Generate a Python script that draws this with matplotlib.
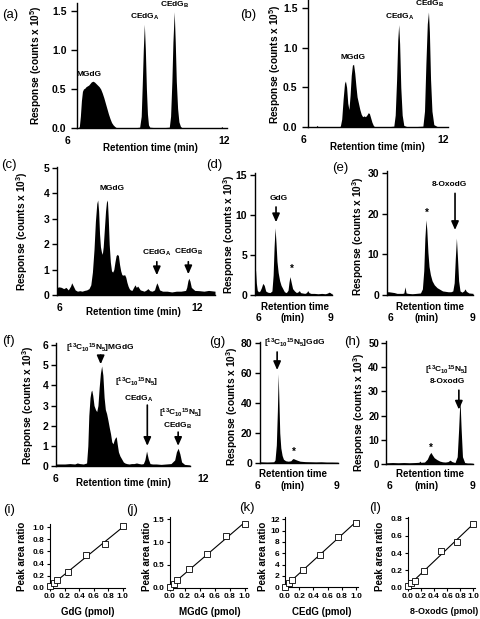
import matplotlib
matplotlib.use("Agg")
import matplotlib.pyplot as plt
import numpy as np

plt.rcParams['font.family'] = ['Liberation Sans', 'DejaVu Sans']
plt.rcParams['font.weight'] = 'bold'
plt.rcParams['mathtext.fontset'] = 'custom'
plt.rcParams['mathtext.rm'] = 'Liberation Sans:bold'
plt.rcParams['mathtext.bf'] = 'Liberation Sans:bold'
plt.rcParams['mathtext.it'] = 'Liberation Sans:bold'
plt.rcParams['mathtext.default'] = 'rm'

W, H = 480, 619
TICK_FS = 7.5
LABEL_FS = 7.3

# ---- chromatogram traces (retention time in min, response) ----
a_t = [6.35, 6.40, 6.44, 6.48, 6.52, 6.56, 6.60, 6.65, 6.70, 6.75, 6.80, 6.85, 6.90, 6.96, 7.02, 7.08, 7.14, 7.20,
       7.26, 7.32, 7.38, 7.44, 7.50, 7.56, 7.62, 7.68, 7.74, 7.80, 7.88, 8.2, 8.5, 8.76, 8.82, 8.86, 8.90, 8.94,
       8.98, 9.02, 9.06, 9.10, 9.15, 9.5, 9.9, 9.95, 10.0, 10.04, 10.09, 10.13, 10.17, 10.22, 10.27, 10.33, 10.40,
       11.0, 11.88, 11.92, 11.96, 12.12]
a_y = [0.0, 0.0, 0.02, 0.15, 0.35, 0.47, 0.50, 0.51, 0.53, 0.54, 0.55, 0.57, 0.59, 0.60, 0.59, 0.57, 0.55, 0.53,
       0.50, 0.45, 0.39, 0.32, 0.25, 0.18, 0.12, 0.07, 0.04, 0.02, 0.0, 0.0, 0.0, 0.01, 0.15, 0.55, 1.0, 1.33,
       1.0, 0.5, 0.18, 0.04, 0.01, 0.0, 0.01, 0.15, 0.6, 1.1, 1.49, 1.1, 0.6, 0.25, 0.08, 0.02, 0.0,
       0.0, 0.0, 0.02, 0.0, 0.0]

b_t = [6.21, 6.55, 6.6, 6.65, 7.5, 7.6, 7.66, 7.72, 7.78, 7.82, 7.87, 7.92, 7.97, 8.02, 8.07, 8.12, 8.17, 8.22,
       8.27, 8.32, 8.38, 8.44, 8.5, 8.56, 8.62, 8.68, 8.74, 8.8, 8.85, 8.9, 8.96, 9.02, 9.08, 9.5, 9.9, 9.96,
       10.02, 10.07, 10.11, 10.15, 10.2, 10.26, 10.33, 10.5, 11.15, 11.22, 11.28, 11.34, 11.39, 11.43, 11.48,
       11.54, 11.62, 11.8, 12.23]
b_y = [0.0, 0.0, 0.02, 0.0, 0.0, 0.01, 0.1, 0.35, 0.55, 0.58, 0.5, 0.3, 0.22, 0.4, 0.65, 0.78, 0.79, 0.68,
       0.52, 0.38, 0.3, 0.22, 0.16, 0.13, 0.14, 0.13, 0.15, 0.18, 0.17, 0.12, 0.06, 0.02, 0.0, 0.0, 0.01, 0.15,
       0.6, 1.1, 1.29, 1.05, 0.5, 0.15, 0.02, 0.0, 0.01, 0.2, 0.8, 1.3, 1.45, 1.2, 0.6,
       0.2, 0.03, 0.0, 0.0]

c_t = [5.91, 6.0, 6.1, 6.2, 6.3, 6.4, 6.5, 6.55, 6.62, 6.7, 6.8, 6.9, 7.0, 7.1, 7.2, 7.3, 7.38, 7.45, 7.52, 7.58,
       7.64, 7.68, 7.72, 7.76, 7.8, 7.84, 7.88, 7.92, 7.97, 8.02, 8.06, 8.1, 8.14, 8.18, 8.23, 8.28, 8.33, 8.38,
       8.43, 8.48, 8.53, 8.58, 8.63, 8.68, 8.73, 8.79, 8.85, 8.9, 8.95, 9.0, 9.05, 9.1, 9.17, 9.24, 9.3, 9.36,
       9.42, 9.47, 9.53, 9.6, 9.7, 9.8, 9.86, 9.95, 10.05, 10.15, 10.2, 10.25, 10.3, 10.37, 10.5, 10.7, 10.9,
       11.1, 11.3, 11.5, 11.55, 11.6, 11.64, 11.69, 11.75, 11.9, 12.1, 12.3, 12.5, 12.78]
c_y = [0.3, 0.32, 0.3, 0.25, 0.3, 0.2, 0.35, 0.48, 0.35, 0.2, 0.15, 0.17, 0.15, 0.18, 0.2, 0.25, 0.4, 0.9, 1.8, 2.9,
       3.6, 3.74, 3.3, 2.4, 1.9, 1.7, 1.6, 1.9, 2.6, 3.3, 3.65, 3.74, 3.0, 2.0, 1.3, 0.95, 0.9, 1.0,
       1.3, 1.55, 1.6, 1.55, 1.2, 0.95, 0.8, 0.78, 0.8, 0.7, 0.5, 0.35, 0.25, 0.2, 0.18, 0.3, 0.4, 0.3,
       0.35, 0.28, 0.2, 0.18, 0.15, 0.2, 0.25, 0.17, 0.15, 0.2, 0.35, 0.48, 0.38, 0.2, 0.15, 0.15, 0.12,
       0.15, 0.15, 0.18, 0.3, 0.55, 0.66, 0.55, 0.3, 0.18, 0.17, 0.15, 0.18, 0.15]

d_t = [5.875, 5.9, 5.93, 5.97, 6.02, 6.08, 6.14, 6.2, 6.26, 6.32, 6.4, 6.5, 6.58, 6.63, 6.67, 6.71, 6.75, 6.79,
       6.84, 6.9, 6.96, 7.03, 7.1, 7.18, 7.25, 7.29, 7.33, 7.38, 7.44, 7.52, 7.6, 7.67, 7.72, 7.77, 7.85, 7.95,
       8.02, 8.07, 8.12, 8.2, 8.35, 8.5, 8.65, 8.8, 8.9, 8.95, 9.0, 9.04, 9.08]
d_y = [3.6, 3.0, 1.5, 0.6, 0.4, 0.5, 0.9, 1.45, 1.2, 0.5, 0.35, 0.3, 0.5, 2.5, 6.0, 8.4, 6.5, 4.2,
       2.8, 1.8, 1.2, 0.8, 0.4, 0.3, 0.6, 1.6, 2.3, 1.6, 0.8, 0.5, 0.3, 0.4, 0.55, 0.3, 0.25, 0.2,
       0.3, 0.55, 0.3, 0.2, 0.2, 0.15, 0.2, 0.15, 0.25, 0.35, 0.3, 0.2, 0.2]

e_t = [5.89, 5.95, 6.05, 6.15, 6.25, 6.35, 6.45, 6.5, 6.54, 6.58, 6.65, 6.8, 6.95, 7.1, 7.17, 7.22, 7.26, 7.3,
       7.33, 7.37, 7.41, 7.46, 7.52, 7.6, 7.7, 7.8, 7.9, 8.0, 8.1, 8.2, 8.27, 8.32, 8.36, 8.4, 8.44, 8.48, 8.53,
       8.6, 8.67, 8.71, 8.76, 8.85, 9.0]
e_y = [0.8, 0.8, 0.7, 0.6, 0.4, 0.4, 0.4, 0.5, 2.0, 0.5, 0.4, 0.3, 0.4, 0.5, 1.5, 6.0, 14.0, 18.5,
       16.0, 10.5, 7.0, 5.0, 3.5, 2.5, 1.8, 1.4, 1.0, 0.9, 0.8, 0.8, 1.0, 3.0, 9.0, 14.0, 9.0, 3.5, 1.0,
       0.7, 1.0, 1.5, 0.9, 0.5, 0.4]

f_t = [6.04, 6.2, 6.4, 6.6, 6.8, 6.9, 7.0, 7.15, 7.28, 7.33, 7.37, 7.42, 7.46, 7.49, 7.53, 7.58, 7.64, 7.69, 7.74,
       7.79, 7.84, 7.89, 7.94, 7.99, 8.04, 8.09, 8.14, 8.2, 8.25, 8.3, 8.35, 8.4, 8.44, 8.48, 8.52, 8.57, 8.63,
       8.7, 8.77, 8.83, 8.9, 9.0, 9.1, 9.2, 9.3, 9.4, 9.5, 9.58, 9.64, 9.71, 9.78, 9.85, 9.95, 10.1, 10.3,
       10.5, 10.7, 10.85, 10.92, 10.99, 11.06, 11.13, 11.25, 11.47]
f_y = [0.1, 0.1, 0.1, 0.12, 0.1, 0.15, 0.12, 0.1, 0.15, 1.0, 2.5, 3.4, 3.7, 3.76, 3.5, 3.0, 2.8, 2.7, 3.0,
       3.9, 4.6, 4.96, 4.5, 3.4, 2.8, 2.6, 2.3, 1.9, 1.6, 1.2, 1.1, 1.3, 1.4, 1.45, 1.1, 0.7, 0.5,
       0.35, 0.2, 0.15, 0.12, 0.1, 0.12, 0.12, 0.15, 0.12, 0.1, 0.12, 0.3, 0.74, 0.35, 0.12, 0.1, 0.1, 0.08,
       0.1, 0.12, 0.3, 0.7, 0.88, 0.6, 0.2, 0.08, 0.05]

g_t = [6.08, 6.2, 6.35, 6.5, 6.6, 6.65, 6.7, 6.74, 6.77, 6.8, 6.83, 6.87, 6.92, 6.97, 7.05, 7.15, 7.25, 7.3,
       7.34, 7.4, 7.5, 7.6, 7.8, 8.0, 8.2, 8.4, 8.6, 8.8, 9.04]
g_y = [0.8, 0.7, 0.6, 0.7, 0.8, 2.0, 12.0, 35.0, 59.5, 40.0, 20.0, 10.0, 5.0, 2.5, 1.5, 1.2, 1.5, 2.5,
       3.0, 2.5, 1.8, 1.2, 0.9, 0.8, 0.7, 0.8, 0.6, 0.6, 0.5]

h_t = [5.75, 5.9, 6.1, 6.3, 6.5, 6.7, 6.9, 7.05, 7.08, 7.12, 7.25, 7.35, 7.42, 7.48, 7.53, 7.6, 7.7, 7.8, 7.9,
       8.0, 8.1, 8.17, 8.24, 8.35, 8.43, 8.48, 8.53, 8.57, 8.62, 8.7, 8.8, 8.9, 9.0]
h_y = [0.5, 0.5, 0.6, 0.5, 0.6, 0.5, 0.6, 0.7, 1.2, 0.7, 0.8, 2.0, 3.8, 4.8, 3.8, 2.6, 1.8, 1.2, 0.9,
       0.8, 1.0, 1.6, 1.0, 0.6, 3.0, 14.0, 27.0, 15.0, 3.0, 0.6, 0.4, 0.4, 0.3]

# ---- calibration curves ----
amount = [0.0, 0.05, 0.1, 0.25, 0.5, 0.75, 1.0]
gdg_ratio = [0.02, 0.07, 0.13, 0.26, 0.54, 0.72, 1.02]
mgdg_ratio = [0.02, 0.08, 0.17, 0.40, 0.74, 1.13, 1.39]
cedg_ratio = [0.1, 0.7, 1.3, 3.06, 5.7, 8.9, 11.4]
oxo_ratio = [0.02, 0.05, 0.08, 0.19, 0.42, 0.53, 0.73]

fig = plt.figure(figsize=(W / 100, H / 100), dpi=100)


def box(l, r, top, bot):
    return [l / W, 1 - bot / H, (r - l) / W, (bot - top) / H]


def ftext(x, y, s, **kw):
    kw.setdefault('ha', 'center')
    kw.setdefault('va', 'center')
    fig.text(x / W, 1 - y / H, s, **kw)


def chrom(pos, t, y, xlim, ylim, yticks, ytl, xt, xtl, xoff, fs=TICK_FS, pad=2, tl=3.5):
    ax = fig.add_axes(box(*pos))
    ax.fill_between(t, y, color='k', lw=0)
    ax.set_xlim(xlim)
    ax.set_ylim(ylim)
    for s in ['top', 'right']:
        ax.spines[s].set_visible(False)
    ax.spines['left'].set_linewidth(1.0)
    ax.spines['bottom'].set_linewidth(1.0)
    ax.set_xticks([])
    ax.set_yticks(yticks)
    ax.set_yticklabels(ytl)
    ax.tick_params(axis='y', direction='out', length=tl, width=1, labelsize=fs, pad=pad)
    for v, lab in zip(xt, xtl):
        ax.annotate(lab, xy=(v, 0), xycoords=('data', 'axes fraction'), xytext=(0, -xoff),
                    textcoords='offset pixels', ha='center', va='center', fontsize=TICK_FS,
                    annotation_clip=False)
    return ax


def lab(ax, x, y, s, fs=6):
    ax.text(x, y, s, ha='center', va='center', fontsize=fs, clip_on=False)


def arrow(ax, x, y0, y1):
    ax.annotate('', xy=(x, y1), xytext=(x, y0),
                arrowprops=dict(arrowstyle='-|>,head_length=0.5,head_width=0.22', color='k',
                                lw=1.2, shrinkA=0, shrinkB=0), annotation_clip=False)


iso = r'[$^{13}$C$_{10}$$^{15}$N$_5$]'
resp5 = r'Response (counts x 10$^5$)'
resp3 = r'Response (counts x 10$^3$)'

# (a)
ax = chrom((77, 227, 3.2, 128), a_t, a_y, (6.35, 12.12), (0, 1.6), [0, 0.5, 1.0, 1.5],
           ['0.0', '0.5', '1.0', '1.5'], [6, 12], ['6', '12'], 13, pad=3, tl=4.5)
lab(ax, 6.81, 0.69, 'MGdG')
lab(ax, 8.96, 1.42, r'CEdG$_A$')
lab(ax, 10.1, 1.58, r'CEdG$_B$')

# (b)
ax = chrom((308, 448, 0.1, 127), b_t, b_y, (6.21, 12.23), (0, 1.6), [0, 0.5, 1.0, 1.5],
           ['0.0', '0.5', '1.0', '1.5'], [6, 12], ['6', '12'], 13, pad=3, tl=4.5)
lab(ax, 8.14, 0.88, 'MGdG')
lab(ax, 10.16, 1.39, r'CEdG$_A$')
lab(ax, 11.44, 1.55, r'CEdG$_B$')

# (c)
ax = chrom((57, 215, 166.7, 295), c_t, c_y, (5.91, 12.78), (0, 5.05), [0, 1, 2, 3, 4, 5],
           ['0', '1', '2', '3', '4', '5'], [6, 12], ['6', '12'], 13)
lab(ax, 8.29, 4.2, 'MGdG')
lab(ax, 10.25, 1.64, r'CEdG$_A$')
arrow(ax, 10.25, 1.31, 0.78)
lab(ax, 11.62, 1.7, r'CEdG$_B$')
arrow(ax, 11.62, 1.31, 0.82)

# (d)
ax = chrom((255, 332, 172.6, 295), d_t, d_y, (5.875, 9.08), (0, 15.3), [0, 5, 10, 15],
           ['0', '5', '10', '15'], [6, 9], ['6', '9'], 23)
lab(ax, 6.85, 12.1, 'GdG')
arrow(ax, 6.75, 11.0, 9.1)
lab(ax, 7.4, 3.3, '*', fs=7)

# (e)
ax = chrom((387, 473, 171, 295), e_t, e_y, (5.89, 9.0), (0, 30.5), [0, 10, 20, 30],
           ['0', '10', '20', '30'], [6, 9], ['6', '9'], 23)
lab(ax, 7.32, 20.3, '*', fs=7)
lab(ax, 8.14, 27.3, '8-OxodG')
arrow(ax, 8.35, 25.0, 16.0)

# (f)
ax = chrom((56, 190, 343, 466), f_t, f_y, (6.04, 11.47), (0, 6.1), [0, 1, 2, 3, 4, 5, 6],
           ['0', '1', '2', '3', '4', '5', '6'], [6, 12], ['6', '12'], 13)
lab(ax, 7.82, 5.82, iso + 'MGdG')
arrow(ax, 7.85, 5.5, 5.05)
lab(ax, 9.31, 4.17, iso)
lab(ax, 9.4, 3.32, r'CEdG$_A$')
arrow(ax, 9.74, 3.02, 1.0)
lab(ax, 11.09, 2.6, iso)
lab(ax, 10.96, 1.98, r'CEdG$_B$')
arrow(ax, 10.99, 1.68, 1.0)

# (g)
ax = chrom((260, 338, 341.5, 463), g_t, g_y, (6.08, 9.04), (0, 81), [0, 20, 40, 60, 80],
           ['0', '20', '40', '60', '80'], [6, 9], ['6', '9'], 23)
lab(ax, 7.41, 80, iso + 'GdG')
arrow(ax, 6.73, 74, 62)
lab(ax, 7.37, 7.5, '*', fs=7)

# (h)
ax = chrom((386, 473, 340.6, 464), h_t, h_y, (5.86, 9.0), (0, 51), [0, 10, 20, 30, 40, 50],
           ['0', '10', '20', '30', '40', '50'], [6, 9], ['6', '9'], 22, fs=7, pad=1.5)
lab(ax, 8.05, 38.8, iso)
lab(ax, 8.07, 34, '8-OxodG')
arrow(ax, 8.49, 30.5, 22.5)
lab(ax, 7.48, 6.5, '*', fs=7)

# axis titles for chromatograms
ftext(36, 65, resp5, rotation=90, fontsize=LABEL_FS)
ftext(275, 64, resp5, rotation=90, fontsize=LABEL_FS)
ftext(22, 231, resp3, rotation=90, fontsize=LABEL_FS)
ftext(229, 234, resp3, rotation=90, fontsize=LABEL_FS)
ftext(358, 236, resp3, rotation=90, fontsize=LABEL_FS)
ftext(28, 405, resp3, rotation=90, fontsize=LABEL_FS)
ftext(232, 406, resp3, rotation=90, fontsize=LABEL_FS)
ftext(359, 412, resp3, rotation=90, fontsize=LABEL_FS)

ftext(150, 148, 'Retention time (min)', fontsize=7)
ftext(377, 147, 'Retention time (min)', fontsize=7)
ftext(133, 312, 'Retention time (min)', fontsize=7)
ftext(123, 483, 'Retention time (min)', fontsize=7)
for x, y in [(295, 307), (430, 307), (293, 474), (430, 474)]:
    ftext(x, y, 'Retention time', fontsize=7)
for x, y in [(293, 318), (427, 318), (293, 486), (427, 486)]:
    ftext(x, y, '(min)', fontsize=7)


# calibration panels
def calib(pos, y, ylim, yticks, ytl, xlabel, xl_x, yl_x, xl_fs=7):
    ax = fig.add_axes(box(*pos))
    fit = np.polyfit(amount, y, 1)
    xx = np.array([0.0, 1.0])
    ax.plot(xx, np.polyval(fit, xx), 'k-', lw=0.8)
    ax.plot(amount, y, 's', mfc='white', mec='k', ms=5, mew=0.6, clip_on=False, zorder=3)
    ax.set_xlim(0, 1.03)
    ax.set_ylim(ylim)
    for s in ['top', 'right']:
        ax.spines[s].set_visible(False)
    ax.set_xticks([0, 0.2, 0.4, 0.6, 0.8, 1.0])
    ax.set_xticklabels(['0.0', '0.2', '0.4', '0.6', '0.8', '1.0'])
    ax.set_yticks(yticks)
    ax.set_yticklabels(ytl)
    ax.tick_params(direction='out', length=2.5, width=0.8, labelsize=6, pad=1.5)
    ftext(xl_x, 612, xlabel, fontsize=xl_fs)
    ftext(yl_x, 556, 'Peak area ratio', rotation=90, fontsize=7)
    return ax


calib((50, 125, 524.3, 587.7), gdg_ratio, (0, 1.05), [0, 0.2, 0.4, 0.6, 0.8, 1.0],
      ['0.0', '0.2', '0.4', '0.6', '0.8', '1.0'], 'GdG (pmol)', 88, 22)
calib((170, 247, 517, 587.7), mgdg_ratio, (0, 1.55), [0, 0.5, 1.0, 1.5],
      ['0.0', '0.5', '1.0', '1.5'], 'MGdG (pmol)', 210, 147)
calib((285, 358, 517, 587.3), cedg_ratio, (0, 12.4), [0, 2, 4, 6, 8, 10, 12],
      ['0', '2', '4', '6', '8', '10', '12'], 'CEdG (pmol)', 322, 263)
calib((408, 475, 516.6, 587.7), oxo_ratio, (0, 0.82), [0, 0.2, 0.4, 0.6, 0.8],
      ['0.0', '0.2', '0.4', '0.6', '0.8'], '8-OxodG (pmol)', 444, 380, xl_fs=6.5)

# panel letters
letters = ['(a)', '(b)', '(c)', '(d)', '(e)', '(f)', '(g)', '(h)', '(i)', '(j)', '(k)', '(l)']
letter_pos = [(10, 15), (248, 15), (9, 165), (214, 165), (340, 168), (8, 341), (217, 342), (352, 342),
              (9, 510), (132, 510), (247, 508), (375, 508)]
for s, (x, y) in zip(letters, letter_pos):
    ftext(x, y, s, fontsize=9.5, fontweight='normal')

fig.savefig('out.png', dpi=100)
